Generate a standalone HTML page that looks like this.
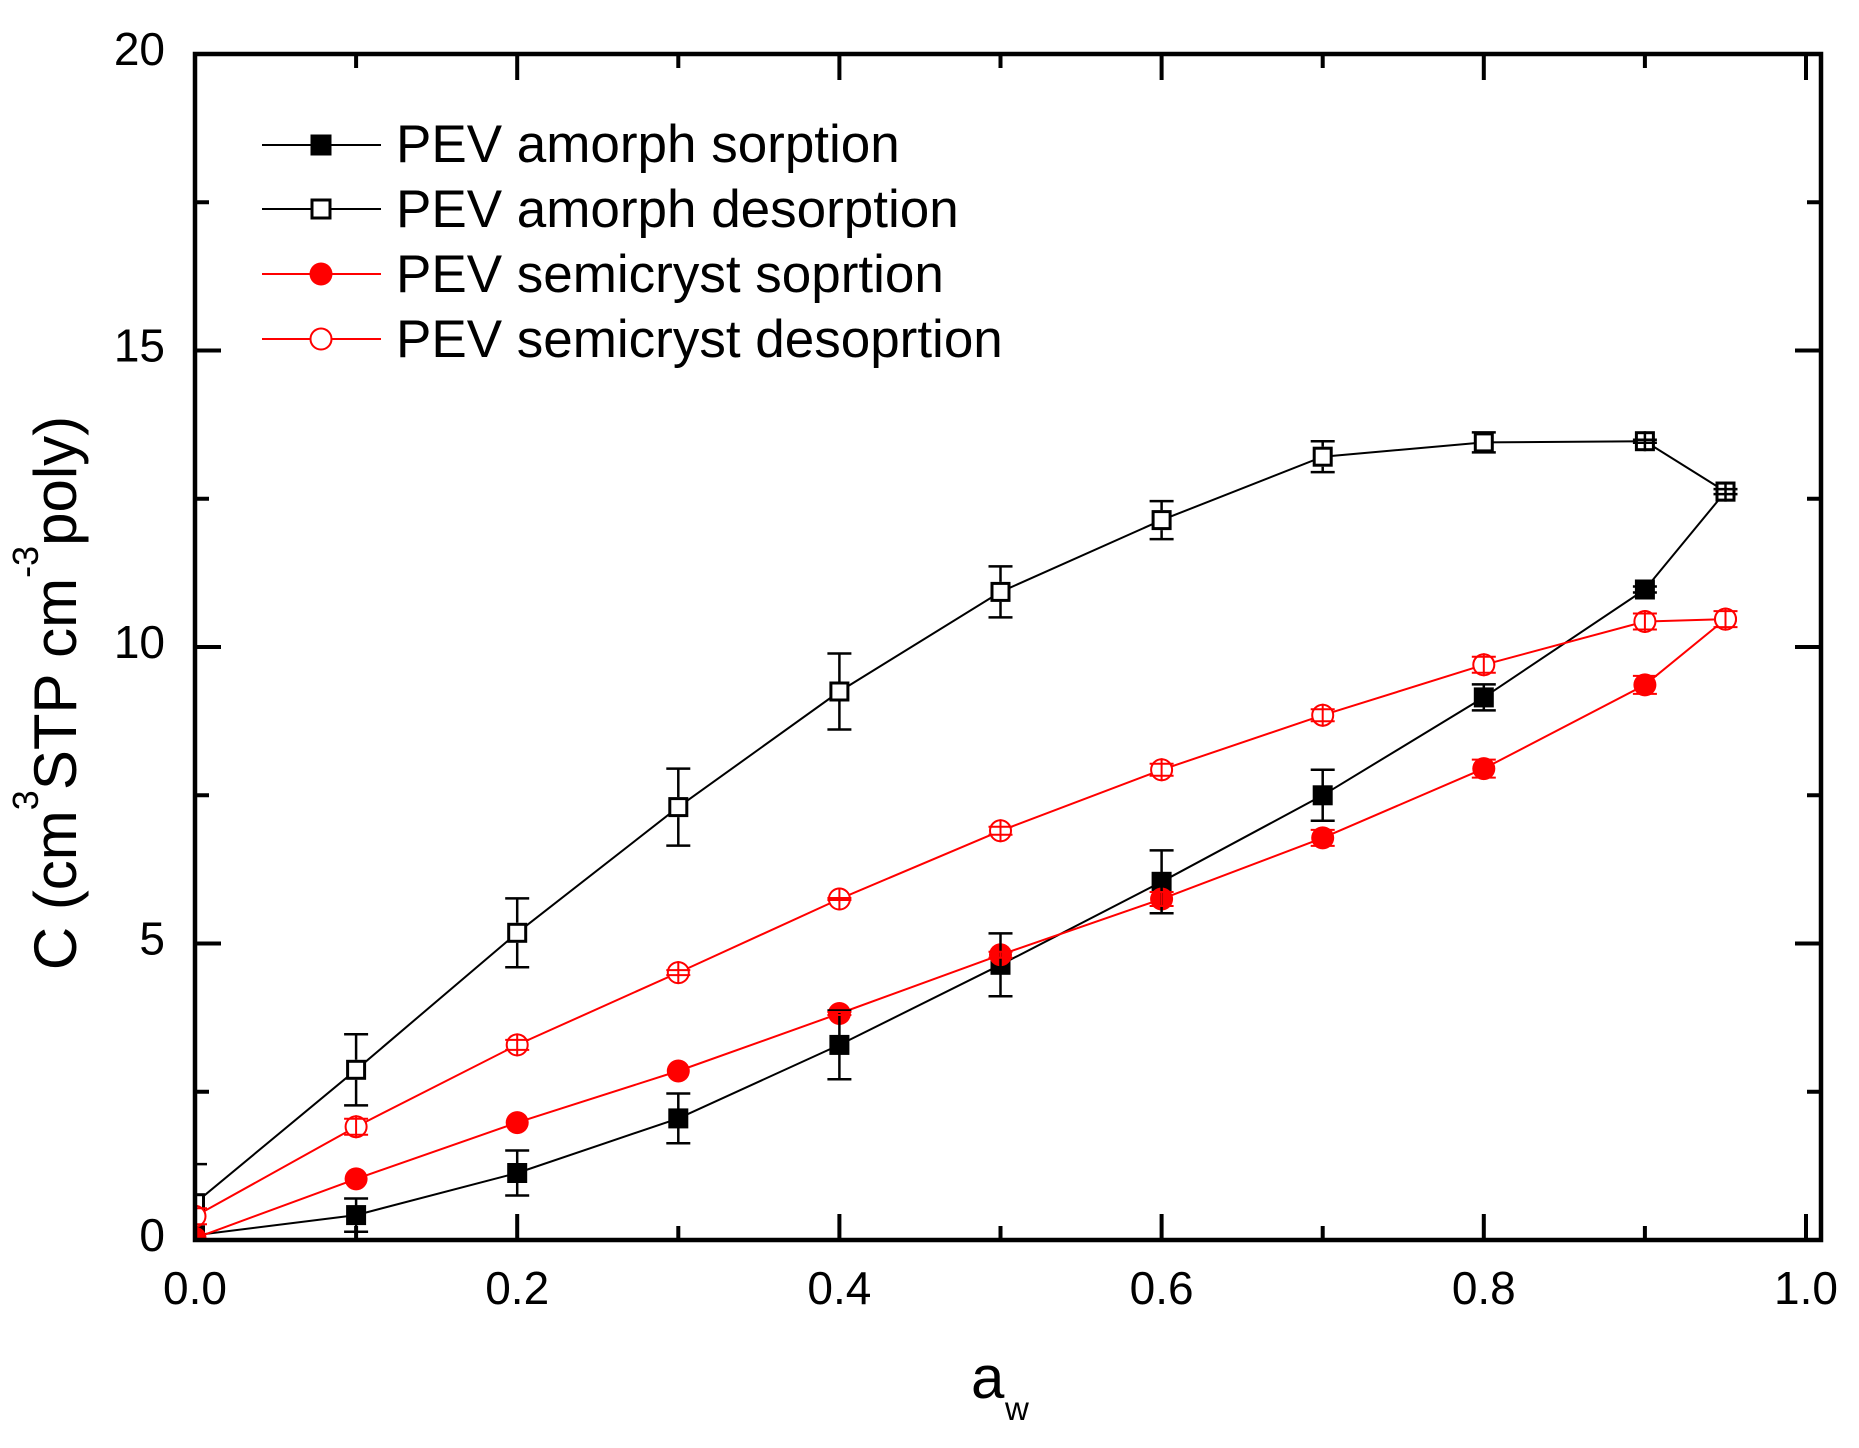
<!DOCTYPE html>
<html>
<head>
<meta charset="utf-8">
<style>
  html, body { margin: 0; padding: 0; background: #ffffff; }
  svg { display: block; }
  text { font-family: "Liberation Sans", Arial, sans-serif; fill: #000; }
</style>
</head>
<body>
<svg width="1859" height="1448" viewBox="0 0 1859 1448" xmlns="http://www.w3.org/2000/svg">
  <rect x="0" y="0" width="1859" height="1448" fill="#ffffff"/>
  <defs>
    <clipPath id="plot">
      <rect x="195" y="54" width="1626" height="1186"/>
    </clipPath>
  </defs>

  <g clip-path="url(#plot)">
    <!-- series lines -->
    <polyline fill="none" stroke="#000" stroke-width="2" points="195,1235.3 356.1,1215.1 517.2,1173 678.3,1118.4 839.4,1044.9 1000.5,964.8 1161.6,881.8 1322.7,795.3 1483.8,697.4 1644.9,589.5 1725.5,491.6"/>
    <polyline fill="none" stroke="#000" stroke-width="2" points="195,1203.2 356.1,1069.8 517.2,932.8 678.3,807.1 839.4,691.5 1000.5,591.9 1161.6,520.1 1322.7,456.7 1483.8,442.4 1644.9,441.2 1725.5,491.6"/>
    <polyline fill="none" stroke="#ff0000" stroke-width="2" points="195,1238.2 356.1,1178.9 517.2,1122.6 678.3,1071 839.4,1013.5 1000.5,954.8 1161.6,899 1322.7,837.9 1483.8,768.6 1644.9,684.9 1725.5,619.1"/>
    <polyline fill="none" stroke="#ff0000" stroke-width="2" points="195,1216.3 356.1,1126.7 517.2,1044.9 678.3,972.6 839.4,899 1000.5,830.8 1161.6,769.8 1322.7,715.2 1483.8,664.8 1644.9,621.5 1725.5,619.1"/>

    <!-- black filled squares (amorph sorption) -->
    <g fill="#000">
      <rect x="185" y="1225.3" width="20" height="20"/>
      <rect x="346.1" y="1205.1" width="20" height="20"/>
      <rect x="507.2" y="1163" width="20" height="20"/>
      <rect x="668.3" y="1108.4" width="20" height="20"/>
      <rect x="829.4" y="1034.9" width="20" height="20"/>
      <rect x="990.5" y="954.8" width="20" height="20"/>
      <rect x="1151.6" y="871.8" width="20" height="20"/>
      <rect x="1312.7" y="785.3" width="20" height="20"/>
      <rect x="1473.8" y="687.4" width="20" height="20"/>
      <rect x="1634.9" y="579.5" width="20" height="20"/>
      <rect x="1715.5" y="481.6" width="20" height="20"/>
    </g>

    <!-- open squares (amorph desorption) -->
    <g fill="#fff" stroke="#000" stroke-width="3">
      <rect x="186.5" y="1194.7" width="17" height="17"/>
      <rect x="347.6" y="1061.3" width="17" height="17"/>
      <rect x="508.7" y="924.3" width="17" height="17"/>
      <rect x="669.8" y="798.6" width="17" height="17"/>
      <rect x="830.9" y="683" width="17" height="17"/>
      <rect x="992" y="583.4" width="17" height="17"/>
      <rect x="1153.1" y="511.6" width="17" height="17"/>
      <rect x="1314.2" y="448.2" width="17" height="17"/>
      <rect x="1475.3" y="433.9" width="17" height="17"/>
      <rect x="1636.4" y="432.7" width="17" height="17"/>
      <rect x="1717" y="483.1" width="17" height="17"/>
    </g>

    <!-- red filled circles (semicryst sorption) -->
    <g fill="#ff0000">
      <circle cx="195" cy="1238.2" r="11.5"/>
      <circle cx="356.1" cy="1178.9" r="11.5"/>
      <circle cx="517.2" cy="1122.6" r="11.5"/>
      <circle cx="678.3" cy="1071" r="11.5"/>
      <circle cx="839.4" cy="1013.5" r="11.5"/>
      <circle cx="1000.5" cy="954.8" r="11.5"/>
      <circle cx="1161.6" cy="899" r="11.5"/>
      <circle cx="1322.7" cy="837.9" r="11.5"/>
      <circle cx="1483.8" cy="768.6" r="11.5"/>
      <circle cx="1644.9" cy="684.9" r="11.5"/>
      <circle cx="1725.5" cy="619.1" r="11.5"/>
    </g>

    <!-- red open circles (semicryst desorption) -->
    <g fill="#fff" stroke="#ff0000" stroke-width="2">
      <circle cx="195" cy="1216.3" r="10.5"/>
      <circle cx="356.1" cy="1126.7" r="10.5"/>
      <circle cx="517.2" cy="1044.9" r="10.5"/>
      <circle cx="678.3" cy="972.6" r="10.5"/>
      <circle cx="839.4" cy="899" r="10.5"/>
      <circle cx="1000.5" cy="830.8" r="10.5"/>
      <circle cx="1161.6" cy="769.8" r="10.5"/>
      <circle cx="1322.7" cy="715.2" r="10.5"/>
      <circle cx="1483.8" cy="664.8" r="10.5"/>
      <circle cx="1644.9" cy="621.5" r="10.5"/>
      <circle cx="1725.5" cy="619.1" r="10.5"/>
    </g>

    <!-- error bars: amorph sorption -->
    <path fill="none" stroke="#000" stroke-width="2.5" d="
      M356.1 1198.5V1231.7 M344.1 1198.5H368.1 M344.1 1231.7H368.1
      M517.2 1150.5V1195.5 M505.2 1150.5H529.2 M505.2 1195.5H529.2
      M678.3 1093.5V1143.3 M666.3 1093.5H690.3 M666.3 1143.3H690.3
      M839.4 1010.5V1079.3 M827.4 1010.5H851.4 M827.4 1079.3H851.4
      M1000.5 933.4V996.2 M988.5 933.4H1012.5 M988.5 996.2H1012.5
      M1161.6 850.4V913.2 M1149.6 850.4H1173.6 M1149.6 913.2H1173.6
      M1322.7 769.8V820.8 M1310.7 769.8H1334.7 M1310.7 820.8H1334.7
      M1483.8 684.4V710.4 M1471.8 684.4H1495.8 M1471.8 710.4H1495.8
      M1632.9 586.5H1656.9 M1632.9 592.5H1656.9"/>

    <!-- error bars: amorph desorption -->
    <path fill="none" stroke="#000" stroke-width="2.5" d="
      M195 1164.1V1193.2 M195 1213.2V1242.3 M183 1164.1H207
      M356.1 1034.2V1059.8 M356.1 1079.8V1105.4 M344.1 1034.2H368.1 M344.1 1105.4H368.1
      M517.2 898.4V922.8 M517.2 942.8V967.2 M505.2 898.4H529.2 M505.2 967.2H529.2
      M678.3 768.6V797.1 M678.3 817.1V845.6 M666.3 768.6H690.3 M666.3 845.6H690.3
      M839.4 653.5V681.5 M839.4 701.5V729.5 M827.4 653.5H851.4 M827.4 729.5H851.4
      M1000.5 566.4V581.9 M1000.5 601.9V617.4 M988.5 566.4H1012.5 M988.5 617.4H1012.5
      M1161.6 501.1V510.1 M1161.6 530.1V539.1 M1149.6 501.1H1173.6 M1149.6 539.1H1173.6
      M1322.7 441.3V446.7 M1322.7 466.7V472.1 M1310.7 441.3H1334.7 M1310.7 472.1H1334.7
      M1471.8 432.4H1495.8 M1471.8 452.4H1495.8
      M1644.9 431.2V451.2 M1632.9 439.7H1656.9 M1632.9 442.7H1656.9
      M1725.5 481.6V501.6 M1713.5 489.1H1737.5 M1713.5 494.1H1737.5"/>

    <!-- error bars: semicryst sorption -->
    <path fill="none" stroke="#ff0000" stroke-width="2" d="
      M827.4 1012H851.4 M827.4 1015H851.4
      M1000.5 951.8V957.8 M988.5 951.8H1012.5 M988.5 957.8H1012.5
      M1161.6 892V906 M1149.6 892H1173.6 M1149.6 906H1173.6
      M1322.7 829.9V845.9 M1310.7 829.9H1334.7 M1310.7 845.9H1334.7
      M1483.8 759.6V777.6 M1471.8 759.6H1495.8 M1471.8 777.6H1495.8
      M1644.9 675.9V693.9 M1632.9 675.9H1656.9 M1632.9 693.9H1656.9"/>

    <!-- error bars: semicryst desorption -->
    <path fill="none" stroke="#ff0000" stroke-width="2" d="
      M195 1204.8V1227.8 M183 1208.3H207 M183 1224.3H207
      M356.1 1115.2V1138.2 M344.1 1118.7H368.1 M344.1 1134.7H368.1
      M517.2 1033.4V1056.4 M505.2 1039.9H529.2 M505.2 1049.9H529.2
      M678.3 961.1V984.1 M666.3 970.1H690.3 M666.3 975.1H690.3
      M839.4 887.5V910.5 M827.4 898H851.4 M827.4 900H851.4
      M1000.5 819.3V842.3 M988.5 826.8H1012.5 M988.5 834.8H1012.5
      M1161.6 758.3V781.3 M1149.6 763.8H1173.6 M1149.6 775.8H1173.6
      M1322.7 703.7V726.7 M1310.7 709.2H1334.7 M1310.7 721.2H1334.7
      M1483.8 653.3V676.3 M1471.8 656.8H1495.8 M1471.8 672.8H1495.8
      M1644.9 610V633 M1632.9 613.5H1656.9 M1632.9 629.5H1656.9
      M1725.5 607.6V630.6 M1713.5 611.1H1737.5 M1713.5 627.1H1737.5"/>
  </g>

  <!-- ticks -->
  <path fill="none" stroke="#000" stroke-width="4" d="
    M517.2 1240V1214 M839.4 1240V1214 M1161.6 1240V1214 M1483.8 1240V1214 M1806 1240V1214
    M356.1 1240V1226 M678.3 1240V1226 M1000.5 1240V1226 M1322.7 1240V1226 M1644.9 1240V1226
    M517.2 54V80 M839.4 54V80 M1161.6 54V80 M1483.8 54V80 M1806 54V80
    M356.1 54V68 M678.3 54V68 M1000.5 54V68 M1322.7 54V68 M1644.9 54V68
    M195 943.5H221 M195 647H221 M195 350.5H221
    M195 1091.75H209 M195 795.25H209 M195 498.75H209 M195 202.25H209
    M1821 943.5H1795 M1821 647H1795 M1821 350.5H1795
    M1821 1091.75H1807 M1821 795.25H1807 M1821 498.75H1807 M1821 202.25H1807"/>

  <!-- axis frame -->
  <rect x="195" y="54" width="1626" height="1186" fill="none" stroke="#000" stroke-width="4.5"/>

  <!-- y tick labels -->
  <g font-size="46" text-anchor="end">
    <text x="165" y="65">20</text>
    <text x="165" y="361.5">15</text>
    <text x="165" y="658">10</text>
    <text x="165" y="954.5">5</text>
    <text x="165" y="1251">0</text>
  </g>

  <!-- x tick labels -->
  <g font-size="46" text-anchor="middle">
    <text x="195" y="1304">0.0</text>
    <text x="517.2" y="1304">0.2</text>
    <text x="839.4" y="1304">0.4</text>
    <text x="1161.6" y="1304">0.6</text>
    <text x="1483.8" y="1304">0.8</text>
    <text x="1806" y="1304">1.0</text>
  </g>

  <!-- x axis title -->
  <text x="971" y="1398" font-size="60">a</text>
  <text x="1005" y="1420" font-size="33">w</text>

  <!-- y axis title -->
  <text transform="translate(76,693) rotate(-90)" text-anchor="middle" font-size="60">C (cm<tspan font-size="36" dy="-38">3</tspan><tspan dy="38">STP cm</tspan><tspan font-size="36" dy="-38">-3</tspan><tspan dy="38">poly)</tspan></text>

  <!-- legend -->
  <line x1="262" y1="145" x2="381" y2="145" stroke="#000" stroke-width="2"/>
  <rect x="310.5" y="134.5" width="21" height="21" fill="#000"/>
  <line x1="262" y1="209" x2="381" y2="209" stroke="#000" stroke-width="2"/>
  <rect x="312" y="200" width="18" height="18" fill="#fff" stroke="#000" stroke-width="3"/>
  <line x1="262" y1="274" x2="381" y2="274" stroke="#ff0000" stroke-width="2"/>
  <circle cx="321" cy="274" r="11.5" fill="#ff0000"/>
  <line x1="262" y1="339" x2="381" y2="339" stroke="#ff0000" stroke-width="2"/>
  <circle cx="321" cy="339" r="10.5" fill="#fff" stroke="#ff0000" stroke-width="2"/>

  <g font-size="53">
    <text x="396" y="162">PEV amorph sorption</text>
    <text x="396" y="227">PEV amorph desorption</text>
    <text x="396" y="292">PEV semicryst soprtion</text>
    <text x="396" y="357">PEV semicryst desoprtion</text>
  </g>
</svg>
</body>
</html>
